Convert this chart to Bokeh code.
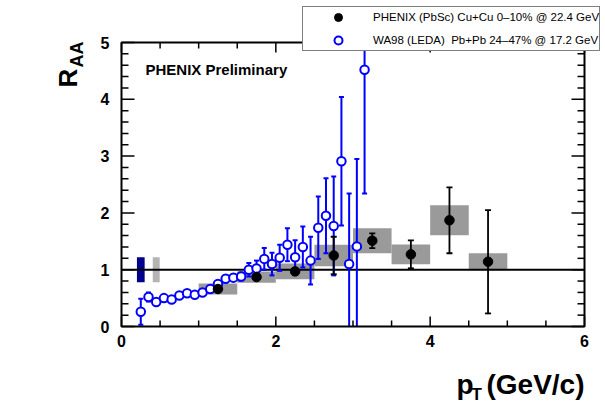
import numpy as np
from bokeh.plotting import figure
from bokeh.models import Range1d, Label, Legend, LegendItem
from bokeh.core.properties import value
from bokeh.embed import file_html
from bokeh.resources import INLINE

# ---------------- data ----------------
# PHENIX (PbSc) Cu+Cu 0-10% @ 22.4 GeV
phenix_pt = [1.25, 1.75, 2.25, 2.75, 3.25, 3.75, 4.25, 4.75]
phenix_raa = [0.66, 0.87, 0.97, 1.25, 1.51, 1.27, 1.87, 1.14]
phenix_stat = [0.04, 0.04, 0.06, 0.33, 0.13, 0.245, 0.58, 0.91]
phenix_sys = [0.095, 0.10, 0.14, 0.19, 0.22, 0.175, 0.265, 0.15]
phenix_bin_width = [0.5, 0.5, 0.5, 0.5, 0.5, 0.5, 0.5, 0.5]

# WA98 (LEDA) Pb+Pb 24-47% @ 17.2 GeV
wa98_pt = [0.25, 0.35, 0.45, 0.55, 0.65, 0.75, 0.85, 0.95, 1.05, 1.15,
           1.25, 1.35, 1.45, 1.55, 1.65, 1.75, 1.85, 1.95, 2.05, 2.15,
           2.25, 2.35, 2.45, 2.55, 2.65, 2.75, 2.85, 2.95, 3.05, 3.15]
wa98_raa = [0.26, 0.52, 0.43, 0.50, 0.475, 0.545, 0.585, 0.56, 0.60, 0.66,
            0.75, 0.84, 0.86, 0.88, 1.00, 1.02, 1.19, 1.10, 1.21, 1.44,
            1.22, 1.40, 1.16, 1.74, 1.95, 1.77, 2.91, 1.10, 1.41, 4.52]
wa98_err = [0.23, 0.08, 0.04, 0.04, 0.04, 0.04, 0.04, 0.04, 0.04, 0.04,
            0.05, 0.06, 0.06, 0.07, 0.12, 0.14, 0.19, 0.20, 0.23, 0.29,
            0.30, 0.36, 0.42, 0.55, 0.66, 0.87, 1.13, 1.24, 1.54, 2.18]

# normalization uncertainty boxes (WA98 blue, PHENIX gray)
norm_pt = [0.25, 0.45]
norm_width = [0.10, 0.09]
norm_center = [1.0, 1.0]
norm_half = [0.22, 0.22]
norm_colors = ["#00008c", "#b4b4b4"]

x_major = [0, 2, 4, 6]
x_major_labels = ["0", "2", "4", "6"]
x_minor = [0.5, 1, 1.5, 2.5, 3, 3.5, 4.5, 5, 5.5]
y_major = [0, 1, 2, 3, 4, 5]
y_major_labels = ["0", "1", "2", "3", "4", "5"]
y_minor = [0.2, 0.4, 0.6, 0.8, 1.2, 1.4, 1.6, 1.8, 2.2, 2.4, 2.6, 2.8,
           3.2, 3.4, 3.6, 3.8, 4.2, 4.4, 4.6, 4.8]
x_lim = [0, 6]
y_lim = [0, 5]
unity = 1.0

FONT = "Liberation Sans"

# ---------------- layout geometry (pixels inside the canvas) ----
W, H = 605, 409
F_LEFT, F_RIGHT, F_TOP, F_BOTTOM = 121, 584, 42, 326
sx = (F_RIGHT - F_LEFT) / (x_lim[1] - x_lim[0])
sy = (F_BOTTOM - F_TOP) / (y_lim[1] - y_lim[0])
xr = Range1d(x_lim[0] - F_LEFT / sx, x_lim[1] + (W - F_RIGHT) / sx)
yr = Range1d(y_lim[0] - (H - F_BOTTOM) / sy, y_lim[1] + F_TOP / sy)

p = figure(width=W, height=H, output_backend="svg", toolbar_location=None,
           x_range=xr, y_range=yr, min_border=0, x_axis_type=None,
           y_axis_type=None, outline_line_color=None)
p.xgrid.visible = False
p.ygrid.visible = False
p.background_fill_color = "white"
p.border_fill_color = "white"


def dx(px):
    return x_lim[0] + (px - F_LEFT) / sx


def dy(py):
    return y_lim[0] + (F_BOTTOM - py) / sy


# ---------------- glyphs ----------------
ph_pt = np.array(phenix_pt)
ph_r = np.array(phenix_raa)
ph_st = np.array(phenix_stat)
ph_sy = np.array(phenix_sys)
ph_w = np.array(phenix_bin_width)

# systematic boxes
p.quad(left=ph_pt - ph_w / 2, right=ph_pt + ph_w / 2,
       bottom=ph_r - ph_sy, top=ph_r + ph_sy,
       fill_color="#9a9a9a", line_color=None)

# normalization boxes
n_pt = np.array(norm_pt)
n_w = np.array(norm_width)
n_c = np.array(norm_center)
n_h = np.array(norm_half)
p.quad(left=n_pt - n_w / 2, right=n_pt + n_w / 2,
       bottom=n_c - n_h, top=n_c + n_h, fill_color=norm_colors,
       line_color=None)

# unity line
p.line(x=x_lim, y=[unity, unity], line_color="black", line_width=2)


def bars(xs, ys, es):
    lo = ys - es
    hi = ys + es
    lo_c = np.clip(lo, y_lim[0], y_lim[1])
    hi_c = np.clip(hi, y_lim[0], y_lim[1])
    cap_x = np.concatenate([xs[lo >= y_lim[0]], xs[hi <= y_lim[1]]])
    cap_y = np.concatenate([lo[lo >= y_lim[0]], hi[hi <= y_lim[1]]])
    return lo_c, hi_c, cap_x, cap_y


# WA98
wa_pt = np.array(wa98_pt)
wa_r = np.array(wa98_raa)
wa_e = np.array(wa98_err)
lo_c, hi_c, cx, cy = bars(wa_pt, wa_r, wa_e)
p.segment(x0=wa_pt, y0=lo_c, x1=wa_pt, y1=hi_c,
          line_color="#0000ff", line_width=2)
p.scatter(cx, cy, marker="dash", size=5, line_color="#0000ff", line_width=2)
wa_glyph = p.scatter(wa_pt, wa_r, marker="circle", size=8.5,
                     fill_color="white", line_color="#0000ff", line_width=2)

# PHENIX
lo_c, hi_c, cx, cy = bars(ph_pt, ph_r, ph_st)
p.segment(x0=ph_pt, y0=lo_c, x1=ph_pt, y1=hi_c,
          line_color="black", line_width=1.8)
p.scatter(cx, cy, marker="dash", size=6, line_color="black", line_width=1.8)
ph_glyph = p.scatter(ph_pt, ph_r, marker="circle", size=9.5,
                     fill_color="black", line_color="black")

# ---------------- frame, ticks, tick labels ----------------
p.quad(left=[x_lim[0]], right=[x_lim[1]], bottom=[y_lim[0]], top=[y_lim[1]],
       fill_color=None, line_color="black", line_width=2)

TICK_W = 1.5
for ticks, ln in ((x_major, 10), (x_minor, 6)):
    n = len(ticks)
    p.ray(x=ticks, y=[y_lim[0]] * n, length=ln, length_units="screen",
          angle=np.pi / 2, line_color="black", line_width=TICK_W)
    p.ray(x=ticks, y=[y_lim[1]] * n, length=ln, length_units="screen",
          angle=-np.pi / 2, line_color="black", line_width=TICK_W)
for ticks, ln in ((y_major, 13), (y_minor, 7)):
    n = len(ticks)
    p.ray(x=[x_lim[0]] * n, y=ticks, length=ln, length_units="screen",
          angle=0, line_color="black", line_width=TICK_W)
    p.ray(x=[x_lim[1]] * n, y=ticks, length=ln, length_units="screen",
          angle=np.pi, line_color="black", line_width=TICK_W)

p.text(x=x_major, y=[y_lim[0]] * len(x_major), text=x_major_labels,
       text_font=value(FONT), text_font_style="bold", text_font_size="16px",
       text_align="center", text_baseline="top", y_offset=8,
       text_color="black")
p.text(x=[x_lim[0]] * len(y_major), y=y_major, text=y_major_labels,
       text_font=value(FONT), text_font_style="bold", text_font_size="16px",
       text_align="right", text_baseline="middle", x_offset=-12,
       text_color="black")

# ---------------- legend ----------------
legend = Legend(items=[
    LegendItem(label="PHENIX (PbSc) Cu+Cu 0\u201310% @ 22.4 GeV", renderers=[ph_glyph]),
    LegendItem(label="WA98 (LEDA)  Pb+Pb 24\u201347% @ 17.2 GeV", renderers=[wa_glyph]),
], location=(302, H - 8 - 43), orientation="vertical",
    glyph_width=70, glyph_height=20, label_height=20, label_standoff=0,
    padding=0, spacing=3, margin=0,
    border_line_color="black", border_line_width=1,
    background_fill_color="white", background_fill_alpha=1,
    label_text_font=FONT, label_text_font_size="11.5px",
    label_text_color="black")
p.add_layout(legend)

# ---------------- texts ----------------
p.add_layout(Label(x=dx(145), y=dy(69), text="PHENIX Preliminary",
                   text_font=FONT, text_font_style="bold", text_font_size="15px",
                   text_color="black", text_baseline="alphabetic"))

# x-axis title p_T (GeV/c)
p.add_layout(Label(x=dx(456), y=dy(384), text="p", text_font=FONT,
                   text_font_style="bold", text_font_size="28px",
                   text_color="black",
                   text_baseline="alphabetic", text_align="left"))
p.add_layout(Label(x=dx(471), y=dy(394), text="T", text_font=FONT,
                   text_font_style="bold", text_font_size="17px",
                   text_color="black",
                   text_baseline="alphabetic", text_align="left"))
p.add_layout(Label(x=dx(584), y=dy(384), text="(GeV/c)", text_font=FONT,
                   text_font_style="bold", text_font_size="28px",
                   text_color="black",
                   text_baseline="alphabetic", text_align="right"))

# y-axis title R_AA (rotated)
p.add_layout(Label(x=dx(67), y=dy(87), text="R", text_font=FONT,
                   text_font_style="bold", text_font_size="26px",
                   text_color="black",
                   angle=np.pi / 2, text_baseline="alphabetic", text_align="left"))
p.add_layout(Label(x=dx(76), y=dy(67), text="AA", text_font=FONT,
                   text_font_style="bold", text_font_size="18px",
                   text_color="black",
                   angle=np.pi / 2, text_baseline="alphabetic", text_align="left"))

open("out.html", "w").write(file_html(p, INLINE))
